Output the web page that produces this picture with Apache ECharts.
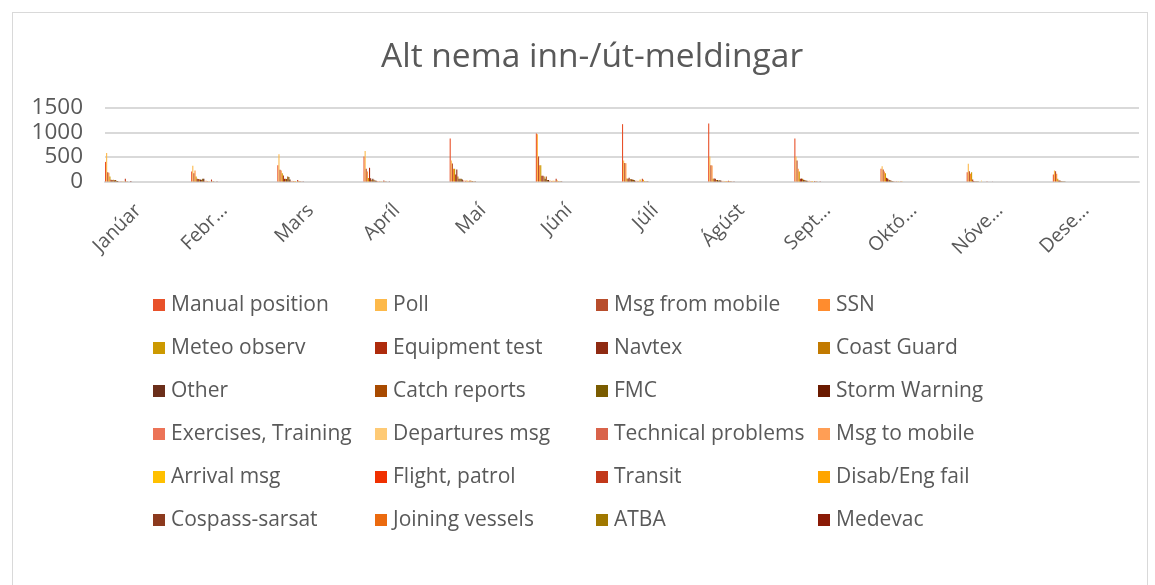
<!DOCTYPE html>
<html>
<head>
<meta charset="utf-8">
<script src="https://cdn.jsdelivr.net/npm/echarts@6/dist/echarts.min.js"></script>
<style>
html,body{margin:0;padding:0;background:#fff;}
#frame{position:absolute;left:12px;top:12px;width:1136px;height:600px;border:1px solid #d9d9d9;box-sizing:border-box;}
#chart{position:absolute;left:0;top:0;width:1155px;height:585px;}
</style>
</head>
<body>
<div id="frame"></div>
<div id="chart"></div>
<script>
const title = 'Alt nema inn-/út-meldingar';
const months = ['Janúar','Febrúar','Mars','Apríl','Maí','Júní','Júlí','Ágúst','September','Október','Nóvember','Desember'];
const yTicks = [0, 500, 1000, 1500];

const seriesNames = ['Manual position','Poll','Msg from mobile','SSN','Meteo observ','Equipment test','Navtex','Coast Guard','Other','Catch reports','FMC','Storm Warning','Exercises, Training','Departures msg','Technical problems','Msg to mobile','Arrival msg','Flight, patrol','Transit','Disab/Eng fail','Cospass-sarsat','Joining vessels','ATBA','Medevac'];
const seriesColors = ['#E8512A','#FDB94A','#B84D2C','#FF8C2E','#CC9900','#AE2B0C','#8F2A12','#C27A00','#6B2E1A','#A84A00','#7A5C00','#6A1A00','#EC7357','#FECA75','#D9634A','#FF9E55','#FFC000','#F03000','#C2381A','#FFA500','#8C3A1E','#EB6A0E','#A07800','#8A1A06'];

const manualPosition = [400, 205, 330, 510, 880, 980, 1170, 1185, 880, 260, 190, 145];
const poll           = [580, 320, 555, 620, 430, 965, 430, 510, 510, 310, 360, 225];
const msgFromMobile  = [190, 170, 240, 260, 365, 510, 380, 330, 430, 245, 210, 210];
const ssn            = [180, 225, 225, 205, 260, 330, 375, 325, 260, 205, 160, 160];
const meteoObserv    = [100, 100, 170, 70, 260, 330, 60, 55, 205, 170, 190, 55];
const equipmentTest  = [35, 55, 125, 280, 145, 115, 55, 60, 55, 75, 40, 20];
const navtex         = [30, 50, 55, 65, 245, 115, 75, 55, 60, 60, 10, 20];
const coastGuard     = [35, 45, 55, 35, 100, 100, 50, 30, 55, 40, 5, 10];
const other          = [25, 40, 50, 55, 55, 55, 45, 30, 35, 30, 5, 5];
const catchReports   = [30, 35, 100, 35, 55, 100, 40, 20, 30, 20, 5, 5];
const fmc            = [15, 55, 90, 20, 55, 30, 35, 25, 20, 10, 3, 3];
const stormWarning   = [10, 55, 40, 15, 40, 30, 25, 20, 15, 5, 2, 2];
const exercises      = [5, 10, 10, 10, 20, 15, 10, 10, 10, 5, 2, 2];
const departuresMsg  = [5, 20, 15, 10, 20, 20, 20, 15, 20, 5, 20, 2];
const technicalProb  = [5, 10, 10, 5, 15, 10, 10, 5, 5, 3, 2, 2];
const msgToMobile    = [5, 5, 10, 5, 20, 15, 15, 10, 10, 3, 2, 2];
const arrivalMsg     = [5, 5, 10, 5, 15, 15, 40, 10, 10, 3, 2, 2];
const flightPatrol   = [2, 2, 2, 2, 5, 5, 5, 3, 2, 2, 2, 0];
const transit        = [55, 40, 30, 20, 20, 55, 55, 15, 10, 5, 5, 2];
const disabEngFail   = [5, 5, 10, 5, 15, 20, 35, 10, 5, 3, 2, 2];
const cospassSarsat  = [3, 3, 5, 3, 10, 5, 5, 5, 3, 2, 2, 0];
const joiningVessels = [2, 2, 3, 2, 5, 5, 5, 3, 2, 2, 0, 0];
const atba           = [0, 0, 2, 0, 5, 5, 5, 2, 2, 0, 0, 0];
const medevac        = [10, 5, 5, 5, 5, 5, 5, 5, 5, 2, 2, 2];

const seriesValues = [manualPosition, poll, msgFromMobile, ssn, meteoObserv, equipmentTest, navtex, coastGuard, other, catchReports, fmc, stormWarning, exercises, departuresMsg, technicalProb, msgToMobile, arrivalMsg, flightPatrol, transit, disabEngFail, cospassSarsat, joiningVessels, atba, medevac];

// group of bars sits at the left part of each month slot (as in the original)
const groupOffset = 0.153;
const txt = '#595959';
const font = '"Open Sans", "Liberation Sans", Arial, sans-serif';

const chart = echarts.init(document.getElementById('chart'), null, {renderer: 'canvas'});

const legends = [0,1,2,3].map(c => ({
  orient: 'vertical',
  left: [148, 370, 591, 813][c],
  top: 288,
  itemWidth: 12,
  itemHeight: 12,
  itemGap: 19,
  icon: 'rect',
  textStyle: {color: txt, fontSize: 21, fontFamily: font, lineHeight: 24, padding: [0,0,0,1]},
  data: seriesNames.filter((n, i) => i % 4 === c)
}));

chart.setOption({
  animation: false,
  title: {
    text: title, left: 376, top: 35,
    textStyle: {color: txt, fontSize: 33.5, fontWeight: 'normal', fontFamily: font}
  },
  legend: legends,
  grid: {left: 105, right: 16, top: 108, height: 73.5, containLabel: false},
  xAxis: [{
    type: 'category', data: months, boundaryGap: true,
    axisLine: {lineStyle: {color: '#d9d9d9', width: 2}},
    axisTick: {show: false},
    axisLabel: {
      rotate: 45, color: txt, fontSize: 19.5, fontFamily: font, margin: 16, interval: 0,
      padding: [0, 14, 0, 0],
      formatter: v => v.length > 6 ? v.slice(0, 4) + '…' : v
    }
  }, {
    type: 'value', min: 0, max: 12, show: false
  }],
  yAxis: {
    type: 'value', min: 0, max: 1500, interval: 500,
    axisLine: {show: false}, axisTick: {show: false},
    axisLabel: {color: txt, fontSize: 22.5, fontFamily: font, margin: 22, formatter: v => String(v)},
    splitLine: {lineStyle: {color: '#d9d9d9', width: 2}}
  },
  series: seriesNames.map((name, i) => ({
    name, type: 'bar', xAxisIndex: 1,
    barWidth: 1.1, barGap: '0%',
    itemStyle: {color: seriesColors[i]},
    data: seriesValues[i].map((v, m) => [m + groupOffset, v])
  }))
});
</script>
</body>
</html>
